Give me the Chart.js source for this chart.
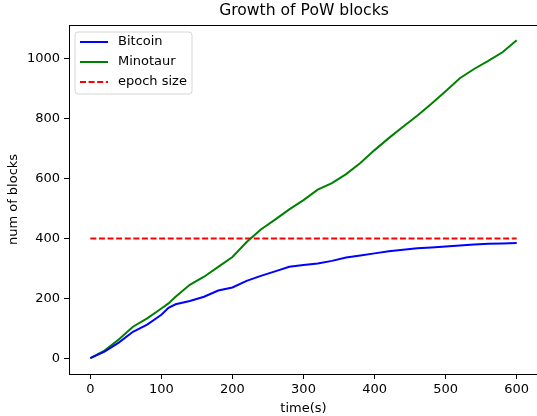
<!DOCTYPE html>
<html lang="en">
  <head>
    <meta charset="UTF-8" />
    <title>Growth of PoW blocks</title>
    <script src="https://cdn.jsdelivr.net/npm/chart.js"></script>
    <style>
      html, body { margin: 0; padding: 0; background: #fff; overflow: hidden; }
      #wrap { width: 537px; height: 416px; overflow: hidden; }
      #myChart { display: block; }
    </style>
  </head>
  <body>
    <div id="wrap">
      <canvas id="myChart" width="545" height="416" style="width:545px;height:416px"></canvas>
    </div>

    <script>
      // values
      var times = [0, 20, 40, 60, 80, 100, 110, 120, 140, 160, 180, 200, 220, 240, 260, 280, 300,
                   320, 340, 360, 380, 400, 420, 440, 460, 480, 500, 520, 540, 560, 580, 600];
      var bitcoin = [0, 22, 52, 88, 112, 145, 168, 180, 191, 205, 226, 236, 258, 275, 290, 305, 311,
                     316, 325, 336, 343, 350, 357, 362, 367, 370, 373, 376, 380, 382, 383, 385];
      var minotaur = [0, 25, 62, 105, 133, 166, 183, 205, 245, 272, 305, 338, 388, 430, 463, 497, 528,
                      563, 585, 615, 652, 695, 735, 773, 810, 850, 892, 935, 966, 993, 1022, 1062];
      var epochTimes = [0, 600];
      var epochSize = 400;
      var xTicks = [0, 100, 200, 300, 400, 500, 600];
      var yTicks = [0, 200, 400, 600, 800, 1000];

      Chart.defaults.font.family = "DejaVu Sans";
      Chart.defaults.font.size = 13;
      Chart.defaults.color = "#000";

      function pts(xs, ys) {
        return xs.map(function (x, i) { return { x: x, y: ys[i] }; });
      }

      // matplotlib-ish top spine, title and legend box
      var frame = {
        id: "frame",
        afterDraw: function (chart) {
          var ctx = chart.ctx, a = chart.chartArea;
          ctx.save();
          ctx.strokeStyle = "#000";
          ctx.lineWidth = 1;
          ctx.beginPath();
          ctx.moveTo(a.left, a.top + 0.5);
          ctx.lineTo(chart.width, a.top + 0.5);
          ctx.stroke();

          ctx.fillStyle = "#000";
          ctx.font = "15.6px 'DejaVu Sans'";
          ctx.textAlign = "center";
          ctx.textBaseline = "middle";
          ctx.fillText("Growth of PoW blocks", 304, 11);

          // legend
          var lx = 75, ly = 32, lw = 117, lh = 62, r = 3;
          ctx.beginPath();
          ctx.moveTo(lx + r, ly);
          ctx.arcTo(lx + lw, ly, lx + lw, ly + lh, r);
          ctx.arcTo(lx + lw, ly + lh, lx, ly + lh, r);
          ctx.arcTo(lx, ly + lh, lx, ly, r);
          ctx.arcTo(lx, ly, lx + lw, ly, r);
          ctx.closePath();
          ctx.fillStyle = "rgba(255,255,255,0.8)";
          ctx.fill();
          ctx.strokeStyle = "#d6d6d6";
          ctx.stroke();

          ctx.font = "13px 'DejaVu Sans'";
          ctx.textAlign = "left";
          chart.data.datasets.forEach(function (ds, i) {
            var y = 42 + i * 20;
            ctx.beginPath();
            ctx.setLineDash(ds.borderDash || []);
            ctx.strokeStyle = ds.borderColor;
            ctx.lineWidth = 2;
            ctx.moveTo(80, y);
            ctx.lineTo(108, y);
            ctx.stroke();
            ctx.setLineDash([]);
            ctx.fillStyle = "#000";
            ctx.fillText(ds.label, 118, y);
          });
          ctx.restore();
        },
      };

      var ctx = document.getElementById("myChart").getContext("2d");
      var chart = new Chart(ctx, {
        type: "line",
        data: {
          datasets: [
            {
              label: "Bitcoin",
              data: pts(times, bitcoin),
              borderColor: "#0000ff",
              borderWidth: 2,
            },
            {
              label: "Minotaur",
              data: pts(times, minotaur),
              borderColor: "#008000",
              borderWidth: 2,
            },
            {
              label: "epoch size",
              data: pts(epochTimes, epochTimes.map(function () { return epochSize; })),
              borderColor: "#ff0000",
              borderWidth: 2,
              borderDash: [6, 2.6],
            },
          ],
        },
        options: {
          responsive: false,
          animation: false,
          elements: { point: { radius: 0 }, line: { tension: 0 } },
          layout: { padding: { top: 25, right: 7, left: 0, bottom: 0 } },
          plugins: { legend: { display: false }, tooltip: { enabled: false } },
          scales: {
            x: {
              type: "linear",
              min: -30,
              max: 630,
              afterBuildTicks: function (s) { s.ticks = xTicks.map(function (v) { return { value: v }; }); },
              afterFit: function (s) { s.height = 42; },
              ticks: { padding: 3, maxRotation: 0, callback: function (v) { return String(v); } },
              grid: { drawOnChartArea: false, tickLength: 5, color: "#000" },
              border: { color: "#000" },
              title: { display: true, text: "time(s)", padding: { top: 0, bottom: 0 } },
            },
            y: {
              min: -53,
              max: 1113,
              afterBuildTicks: function (s) { s.ticks = yTicks.map(function (v) { return { value: v }; }); },
              afterFit: function (s) { s.width = 69; },
              ticks: { padding: 4, callback: function (v) { return String(v); } },
              grid: { drawOnChartArea: false, tickLength: 5, color: "#000" },
              border: { color: "#000" },
              title: { display: true, text: "num of blocks", padding: { top: 6, bottom: 0 } },
            },
          },
        },
        plugins: [frame],
      });
    </script>
  </body>
</html>
